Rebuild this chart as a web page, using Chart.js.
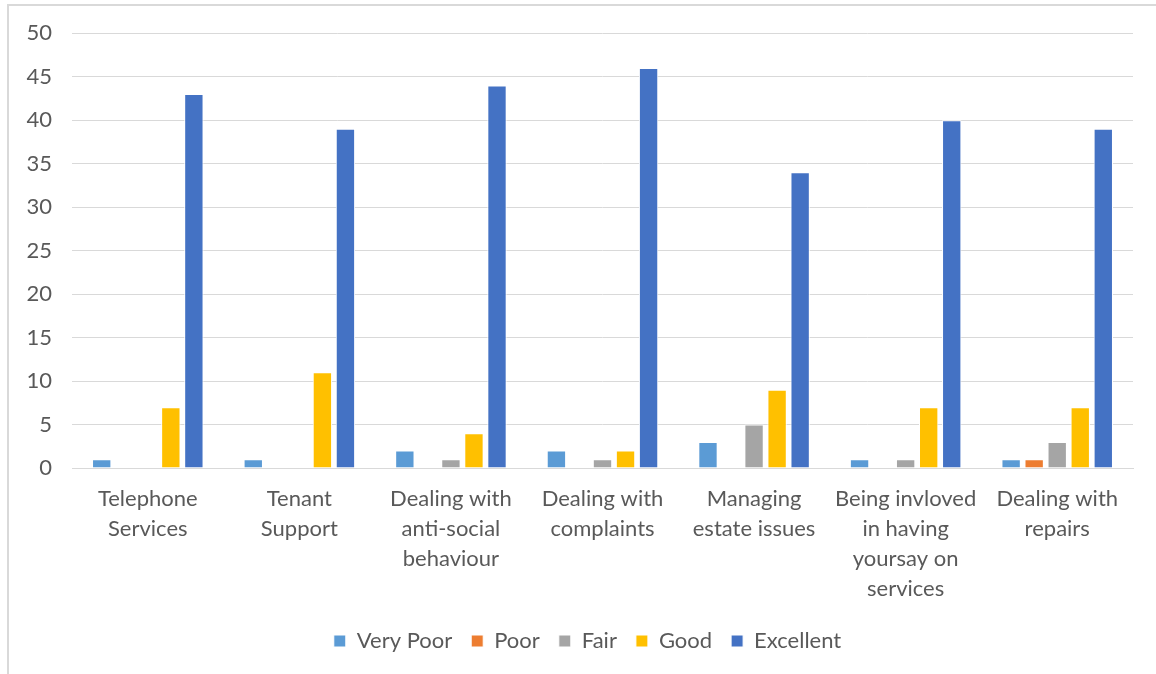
<!DOCTYPE html>
<html>
<head>
<meta charset="utf-8">
<script src="https://cdn.jsdelivr.net/npm/chart.js@4"></script>
<style>
  html, body { margin: 0; padding: 0; background: #fff; }
  #frame {
    position: absolute; left: 7px; top: 4px; width: 1200px; height: 720px;
    border-left: 2px solid #d9d9d9; border-top: 2px solid #d9d9d9;
  }
  #wrap { position: absolute; left: 0; top: 0; width: 1156px; height: 674px; }
</style>
</head>
<body>
<div id="frame"></div>
<div id="wrap"><canvas id="ratings-chart"></canvas></div>
<script>
const categories = [
  ['Telephone', 'Services'],
  ['Tenant', 'Support'],
  ['Dealing with', 'anti-social', 'behaviour'],
  ['Dealing with', 'complaints'],
  ['Managing', 'estate issues'],
  ['Being invloved', 'in having', 'yoursay on', 'services'],
  ['Dealing with', 'repairs']
];
const veryPoor  = [1, 1, 2, 2, 3, 1, 1];
const poor      = [0, 0, 0, 0, 0, 0, 1];
const fair      = [0, 0, 1, 1, 5, 1, 3];
const good      = [7, 11, 4, 2, 9, 7, 7];
const excellent = [43, 39, 44, 46, 34, 40, 39];
const yTicks = [0, 5, 10, 15, 20, 25, 30, 35, 40, 45, 50];

const FONT = 'Lato, "Noto Sans", sans-serif';
const TEXT = '#595959';
const LEGEND_DX = 21;

function series(label, data, color) {
  return {
    label, data,
    backgroundColor: color,
    borderColor: '#ffffff',
    borderWidth: 1,
    categoryPercentage: 0.76,
    barPercentage: 0.84
  };
}

// draw the legend a little right of the canvas centre
const legendShift = {
  id: 'legendShift',
  afterLayout(chart) {
    const lg = chart.legend;
    if (!lg || lg._shifted) return;
    const draw = lg.draw;
    lg.draw = function (area) {
      this.ctx.save();
      this.ctx.translate(LEGEND_DX, 0);
      draw.call(this, area);
      this.ctx.restore();
    };
    lg._shifted = true;
  }
};

const ctx = document.getElementById('ratings-chart');
new Chart(ctx, {
  type: 'bar',
  data: {
    labels: categories,
    datasets: [
      series('Very Poor', veryPoor, '#5b9bd5'),
      series('Poor', poor, '#ed7d31'),
      series('Fair', fair, '#a5a5a5'),
      series('Good', good, '#ffc000'),
      series('Excellent', excellent, '#4472c4')
    ]
  },
  plugins: [legendShift],
  options: {
    responsive: true,
    maintainAspectRatio: false,
    animation: false,
    layout: { padding: { top: 19, right: 23, left: 0, bottom: 12 } },
    plugins: {
      tooltip: { enabled: false },
      legend: {
        position: 'bottom',
        labels: {
          boxWidth: 12, boxHeight: 12, padding: 19,
          color: TEXT,
          font: { family: FONT, size: 22 }
        }
      }
    },
    scales: {
      x: {
        grid: { display: false },
        border: { color: '#d9d9d9', width: 1 },
        ticks: {
          color: TEXT, maxRotation: 0, autoSkip: false, padding: 8,
          font: { family: FONT, size: 22, lineHeight: '30px' }
        },
        afterFit: s => { s.height = 143; }
      },
      y: {
        min: 0, max: 50,
        afterBuildTicks: s => { s.ticks = yTicks.map(v => ({ value: v })); },
        grid: { color: '#d9d9d9', drawTicks: false },
        border: { display: false },
        ticks: {
          color: TEXT, padding: 20,
          font: { family: FONT, size: 22 }
        },
        afterFit: s => { s.width = 72; }
      }
    }
  }
});
</script>
</body>
</html>
